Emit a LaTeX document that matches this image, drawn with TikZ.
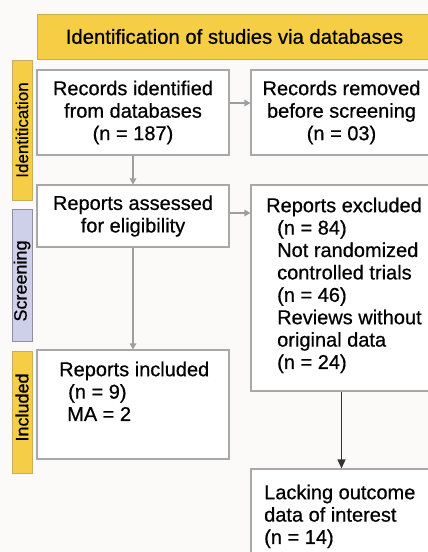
\documentclass[tikz,border=0pt]{standalone}
\usepackage{fontspec}
\setmainfont[FakeBold=0.6,AutoFakeBold=0.6]{Liberation Sans}
\newfontfamily\medfont[FakeBold=0.6]{Liberation Sans}
\usetikzlibrary{arrows.meta}
\definecolor{ylw}{HTML}{F5CE45}
\definecolor{ylwb}{HTML}{C9AE5A}
\definecolor{lav}{HTML}{CDD0E8}
\definecolor{lavb}{HTML}{8E8E9E}
\definecolor{bord}{HTML}{A8A8A8}
\definecolor{arrg}{HTML}{9E9E9E}
\definecolor{bg}{HTML}{FBFAF8}
\begin{document}
\begin{tikzpicture}[x=1pt,y=-1pt,
  box/.style={draw=bord, line width=1.1pt, fill=white, inner sep=0pt, align=center,
    font=\medfont\fontsize{20}{22.5}\selectfont},
  txt/.style={inner sep=0pt, align=left, anchor=north west, font=\medfont\fontsize{20}{22.4}\selectfont},
  side/.style={line width=0.8pt, inner sep=0pt, rotate=90, minimum height=20pt},
  arr/.style={draw=arrg, line width=1.2pt, -{Triangle[length=6pt,width=6.5pt]}},
  arrk/.style={draw=black!80, line width=1.3pt, -{Triangle[length=9pt,width=8pt]}}]
\useasboundingbox (0,0) rectangle (428,552);
\fill[bg] (0,0) rectangle (428,552);
% banner
\node[draw=ylwb, line width=0.8pt, fill=ylw, minimum width=395pt, minimum height=45pt,
  inner sep=0pt, font=\medfont\fontsize{20.3}{22}\selectfont] (ban) at (234.5,36.5)
  {Identification of studies via databases};
% side labels
\node[side, draw=ylwb, fill=ylw, minimum width=140pt, font=\medfont\fontsize{17}{18}\selectfont] (sid) at (22,130) {Identitication};
\node[side, draw=lavb, fill=lav, minimum width=132pt, font=\medfont\fontsize{18}{18}\selectfont] (sscr) at (22,275) {Screening\hspace*{12pt}};
\node[side, draw=ylwb, fill=ylw, minimum width=122pt, font=\medfont\fontsize{18}{18}\selectfont] (sinc) at (22,412) {\hspace*{9pt}Included};
% boxes
\node[box, minimum width=192pt, minimum height=85pt] (b1) at (133,112.5)
  {Records identified\\from databases\\(n = 187)};
\node[box, minimum width=181pt, minimum height=85pt] (b2) at (341.5,112.5)
  {Records removed\\before screening\\(n = 03)};
\node[box, minimum width=192pt, minimum height=62pt] (b3) at (133,216)
  {Reports assessed\\for eligibility};
\node[box, minimum width=181pt, minimum height=206pt] (b4) at (341.5,288) {};
\node[box, minimum width=192pt, minimum height=109pt] (b5) at (133,404.5) {};
\node[box, minimum width=181pt, minimum height=100pt] (b6) at (341.5,519) {};
% texts of left-aligned boxes
\node[txt] (t4) at (266,197.5)
  {Reports excluded\\\hspace*{11pt}(n = 84)\\\hspace*{11pt}Not randomized\\\hspace*{11pt}controlled trials\\\hspace*{11pt}(n = 46)\\\hspace*{11pt}Reviews without\\\hspace*{11pt}original data\\\hspace*{11pt}(n = 24)};
\node[txt] (t5) at (59,361.5)
  {Reports included\\\hspace*{9pt}(n = 9)\\\hspace*{8pt}MA = 2};
\node[txt] (t6) at (264,484.5)
  {Lacking outcome\\data of interest\\(n = 14)};
% connectors
\coordinate (p1) at ([yshift=9.5pt]b1.east);
\draw[arr] (p1) -- (p1 -| b2.west);
\coordinate (p2) at ([yshift=3pt]b3.east);
\draw[arr] (p2) -- (p2 -| b4.west);
\draw[arr] (b1.south) -- (b3.north);
\draw[arr] (b3.south) -- (b5.north);
\draw[arrk] (b4.south) -- (b6.north);
\end{tikzpicture}
\end{document}
